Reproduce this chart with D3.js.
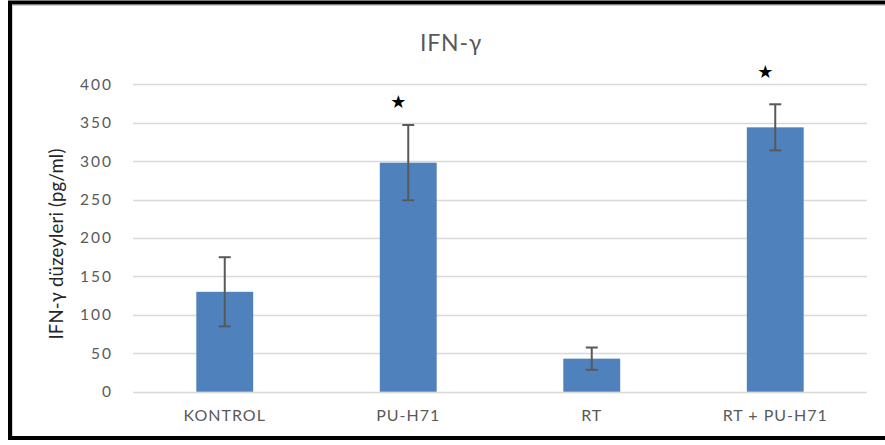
<!DOCTYPE html>
<html><head><meta charset="utf-8">
<script src="https://cdn.jsdelivr.net/npm/d3@7/dist/d3.min.js"></script>
<style>
html,body{margin:0;padding:0;background:#fff;}
svg{display:block;font-family:Lato,"Open Sans",sans-serif;}
</style></head>
<body>
<svg id="c" width="885" height="445"></svg>
<script>
const categories = ["KONTROL", "PU-H71", "RT", "RT + PU-H71"];
const values = [130, 298, 43, 344];
const errors = [45, 49, 14.5, 30];
const stars = [null, 377, null, 416];
const yTicks = [0, 50, 100, 150, 200, 250, 300, 350, 400];
const title = "IFN-γ";
const yLabel = "IFN-γ düzeyleri (pg/ml)";

const svg = d3.select("#c");
// frame
svg.append("line").attr("x1",12).attr("x2",885).attr("y1",5.5).attr("y2",5.5).attr("stroke","#d0d0d0").attr("stroke-width",1);
svg.append("line").attr("x1",12.5).attr("x2",12.5).attr("y1",5).attr("y2",436).attr("stroke","#d0d0d0").attr("stroke-width",1);
svg.append("line").attr("x1",8).attr("x2",885).attr("y1",2.5).attr("y2",2.5).attr("stroke","#000").attr("stroke-width",4);
svg.append("line").attr("x1",10).attr("x2",10).attr("y1",1).attr("y2",440).attr("stroke","#000").attr("stroke-width",4);
svg.append("line").attr("x1",8).attr("x2",885).attr("y1",438).attr("y2",438).attr("stroke","#000").attr("stroke-width",4);

const x = d3.scaleBand().domain(categories).range([133, 867]).padding(0);
const y = d3.scaleLinear().domain([0, 400]).range([391.7, 84.3]);
const barW = x.bandwidth() * 0.31;

// gridlines
svg.append("g").selectAll("line").data(yTicks).join("line")
  .attr("x1",133).attr("x2",867)
  .attr("y1",d=>Math.round(y(d))+0.5).attr("y2",d=>Math.round(y(d))+0.5)
  .attr("stroke","#d9d9d9").attr("stroke-width",1.3);

// y tick labels
svg.append("g").selectAll("text").data(yTicks).join("text")
  .attr("x",113).attr("y",d=>y(d)).attr("dy","0.35em")
  .attr("text-anchor","end").attr("fill","#595959")
  .attr("font-size",15.5).attr("letter-spacing",2).text(d=>d);

// bars
const data = categories.map((c,i)=>({c, v:values[i], e:errors[i], s:stars[i]}));
svg.append("g").selectAll("rect").data(data).join("rect")
  .attr("x",d=>x(d.c)+x.bandwidth()/2-barW/2).attr("width",barW)
  .attr("y",d=>y(d.v)).attr("height",d=>y(0)-y(d.v))
  .attr("fill","#4f81bd");

// error bars
const eg = svg.append("g").attr("stroke","#595959").attr("stroke-width",2);
data.forEach(d=>{
  const cx = x(d.c)+x.bandwidth()/2;
  eg.append("line").attr("x1",cx).attr("x2",cx).attr("y1",y(d.v+d.e)).attr("y2",y(d.v-d.e));
  eg.append("line").attr("x1",cx-6).attr("x2",cx+6).attr("y1",y(d.v+d.e)).attr("y2",y(d.v+d.e));
  eg.append("line").attr("x1",cx-6).attr("x2",cx+6).attr("y1",y(d.v-d.e)).attr("y2",y(d.v-d.e));
});

// stars
svg.append("g").selectAll("text").data(data.filter(d=>d.s!==null)).join("text")
  .attr("x",d=>x(d.c)+x.bandwidth()/2-10).attr("y",d=>y(d.s)).attr("dy","0.35em")
  .attr("text-anchor","middle").attr("font-family","DejaVu Sans").attr("font-size",18).attr("fill","#000")
  .text("★");

// x labels
svg.append("g").selectAll("text").data(categories).join("text")
  .attr("x",d=>x(d)+x.bandwidth()/2).attr("y",415).attr("dy","0.35em")
  .attr("text-anchor","middle").attr("fill","#595959")
  .attr("font-size",16).attr("letter-spacing",1).text(d=>d);

// title
svg.append("text").attr("x",451).attr("y",43).attr("dy","0.35em")
  .attr("text-anchor","middle").attr("fill","#595959")
  .attr("font-size",23).attr("letter-spacing",0.8).text(title);

// y label
svg.append("text").attr("transform","translate(57,244) rotate(-90)").attr("dy","0.35em")
  .attr("text-anchor","middle").attr("fill","#262626")
  .attr("font-size",18.5).attr("letter-spacing",0.2).text(yLabel);
</script>
</body></html>
